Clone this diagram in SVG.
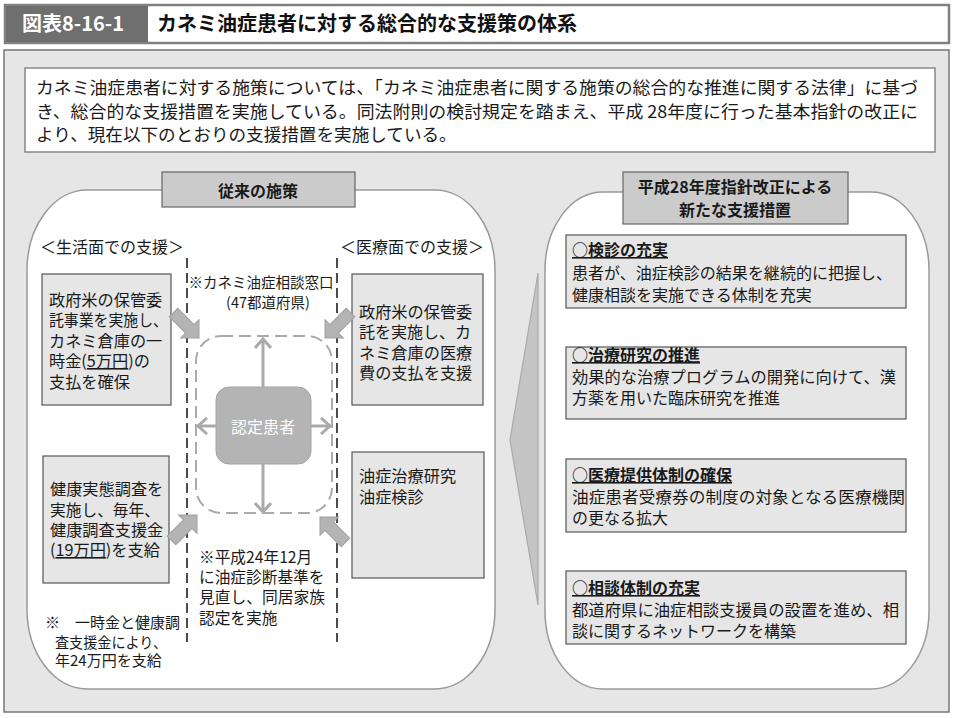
<svg xmlns="http://www.w3.org/2000/svg" width="956" height="718" viewBox="0 0 956 718">
<style>
text{font-family:"Noto Sans CJK JP","Noto Sans",sans-serif;fill:#1a1a1a}
.b{font-weight:bold}
.t16{font-size:16px}
.t162{font-size:16.2px}
.t15{font-size:15px}
.box{fill:#e6e6e6;stroke:#555;stroke-width:1.2}
.hdr{fill:#cbcbcb;stroke:#666;stroke-width:1.2}
.panel{fill:#fff;stroke:#9a9a9a;stroke-width:1.5}
.u{text-decoration:underline}
.blk{fill:#b4b4b4;stroke:#a0a0a0;stroke-width:1}
.ln{stroke:#aaa;stroke-width:3;fill:none}
</style>
<defs>
<marker id="ah" viewBox="0 0 12 18" refX="10" refY="9" markerWidth="12" markerHeight="18" markerUnits="userSpaceOnUse" orient="auto">
<path d="M1,1 L10,9 L1,17" fill="none" stroke="#aaa" stroke-width="3"/>
</marker>
<path id="barrow" d="M-36,-6 L-13,-6 L-13,-13 L0,0 L-13,13 L-13,6 L-36,6 Z"/>
</defs>

<!-- Title bar -->
<g id="title">
<rect x="5" y="5" width="944" height="38" fill="#fff" stroke="#808080" stroke-width="2.5"/>
<rect x="6" y="6" width="142" height="36" fill="#6f6f6f"/>
<text x="22" y="31" class="b" style="font-size:20px;fill:#fff">図表8-16-1</text>
<text x="157" y="31" class="b" style="font-size:20px;fill:#111">カネミ油症患者に対する総合的な支援策の体系</text>
</g>

<!-- Main background panel -->
<rect x="4" y="50" width="945" height="662" fill="#e6e6e6" stroke="#777" stroke-width="1.5"/>

<!-- Intro text -->
<g id="intro">
<rect x="25" y="68" width="910" height="84" fill="#fff" stroke="#888" stroke-width="1.5"/>
<text x="36" y="94" style="font-size:17.6px" textLength="882" lengthAdjust="spacingAndGlyphs">カネミ油症患者に対する施策については、「カネミ油症患者に関する施策の総合的な推進に関する法律」に基づ</text>
<text x="36" y="118" style="font-size:17.6px" textLength="882" lengthAdjust="spacingAndGlyphs">き、総合的な支援措置を実施している。同法附則の検討規定を踏まえ、平成 28年度に行った基本指針の改正に</text>
<text x="36" y="141" style="font-size:17.6px">より、現在以下のとおりの支援措置を実施している。</text>
</g>

<!-- Left panel -->
<g id="left-panel">
<rect x="27" y="190" width="468" height="499" rx="60" ry="80" class="panel"/>
<rect x="162" y="172" width="193" height="35" class="hdr"/>
<text x="258" y="197" class="b t16" text-anchor="middle">従来の施策</text>
<text x="40" y="253" class="t16">＜生活面での支援＞</text>
<text x="340" y="253" class="t16">＜医療面での支援＞</text>
</g>

<!-- Right panel -->
<g id="right-panel">
<rect x="545" y="192" width="384" height="497" rx="58" ry="78" class="panel"/>
<rect x="623" y="172" width="225" height="52" class="hdr"/>
<text x="735" y="193" class="b t16" text-anchor="middle">平成28年度指針改正による</text>
<text x="735" y="216" class="b t16" text-anchor="middle">新たな支援措置</text>
</g>

<g id="node-life1">
<rect x="42" y="274" width="129" height="131" class="box"/>
<text class="t162" x="49" y="306">政府米の保管委</text>
<text class="t162" x="49" y="326" textLength="119" lengthAdjust="spacingAndGlyphs">託事業を実施し、</text>
<text class="t162" x="49" y="347">カネミ倉庫の一</text>
<text class="t162" x="49" y="367"><tspan>時金(</tspan><tspan class="u">5万円</tspan><tspan>)の</tspan></text>
<text class="t162" x="49" y="388">支払を確保</text>
</g>

<g id="node-med1">
<rect x="352" y="274" width="131" height="131" class="box"/>
<text class="t162" x="359" y="318">政府米の保管委</text>
<text class="t162" x="359" y="338" textLength="112" lengthAdjust="spacingAndGlyphs">託を実施し、カ</text>
<text class="t162" x="359" y="359">ネミ倉庫の医療</text>
<text class="t162" x="359" y="379">費の支払を支援</text>
</g>

<g id="node-life2">
<rect x="43" y="456" width="126" height="127" class="box"/>
<text class="t162" x="50" y="495">健康実態調査を</text>
<text class="t162" x="50" y="516" textLength="110" lengthAdjust="spacingAndGlyphs">実施し、毎年、</text>
<text class="t162" x="50" y="536">健康調査支援金</text>
<text class="t162" x="50" y="556"><tspan>(</tspan><tspan class="u">19万円</tspan><tspan>)を支給</tspan></text>
</g>

<g id="node-med2">
<rect x="352" y="452" width="132" height="126" class="box"/>
<text class="t162" x="359" y="482">油症治療研究</text>
<text class="t162" x="359" y="503">油症検診</text>
</g>

<g id="note-left">
<text class="t15" x="45" y="628" xml:space="preserve">※　一時金と健康調</text>
<text class="t15" x="55" y="648" textLength="112" lengthAdjust="spacingAndGlyphs">査支援金により、</text>
<text class="t15" x="55" y="666">年24万円を支給</text>
</g>

<g id="consult-window">
<line x1="187" y1="258" x2="187" y2="642" stroke="#111" stroke-width="1.5" stroke-dasharray="10 5"/>
<line x1="337" y1="258" x2="337" y2="642" stroke="#111" stroke-width="1.5" stroke-dasharray="10 5"/>
<text x="261" y="288" style="font-size:14.5px" text-anchor="middle">※カネミ油症相談窓口</text>
<text x="268" y="308" style="font-size:14.5px" text-anchor="middle">(47都道府県)</text>
<rect x="196" y="336" width="136" height="177" rx="25" fill="none" stroke="#aaa" stroke-width="2" stroke-dasharray="12 6"/>
</g>

<g id="note-center">
<text style="font-size:15.7px" x="199" y="563">※平成24年12月</text>
<text style="font-size:15.7px" x="199" y="583">に油症診断基準を</text>
<text style="font-size:15.7px" x="199" y="603" textLength="126" lengthAdjust="spacingAndGlyphs">見直し、同居家族</text>
<text style="font-size:15.7px" x="199" y="624">認定を実施</text>
</g>

<g id="node-patient">
<rect x="216" y="387" width="95" height="77" rx="13" fill="#b4b4b4" stroke="#a4a4a4" stroke-width="1"/>
<text x="263" y="433" class="t16" text-anchor="middle" style="fill:#fff">認定患者</text>
</g>

<g id="new1">
<rect x="566" y="235" width="340" height="73" class="box"/>
<text class="t16 b u" x="572" y="256">○検診の充実</text>
<text class="t16" x="572" y="279" textLength="320" lengthAdjust="spacingAndGlyphs">患者が、油症検診の結果を継続的に把握し、</text>
<text class="t16" x="572" y="301">健康相談を実施できる体制を充実</text>
</g>
<g id="new2">
<rect x="566" y="347" width="340" height="72" class="box"/>
<text class="t16 b u" x="572" y="361">○治療研究の推進</text>
<text class="t16" x="572" y="383" textLength="324" lengthAdjust="spacingAndGlyphs">効果的な治療プログラムの開発に向けて、漢</text>
<text class="t16" x="572" y="404">方薬を用いた臨床研究を推進</text>
</g>
<g id="new3">
<rect x="566" y="459" width="340" height="73" class="box"/>
<text class="t16 b u" x="572" y="481">○医療提供体制の確保</text>
<text class="t16" x="572" y="503" textLength="333" lengthAdjust="spacingAndGlyphs">油症患者受療券の制度の対象となる医療機関</text>
<text class="t16" x="572" y="524">の更なる拡大</text>
</g>
<g id="new4">
<rect x="566" y="571" width="340" height="73" class="box"/>
<text class="t16 b u" x="572" y="594">○相談体制の充実</text>
<text class="t16" x="572" y="616" textLength="327" lengthAdjust="spacingAndGlyphs">都道府県に油症相談支援員の設置を進め、相</text>
<text class="t16" x="572" y="637">談に関するネットワークを構築</text>
</g>

<g id="connectors">
<polygon points="538,273 510,440 538,605" fill="#c4c4c4" stroke="#aaa" stroke-width="1.2"/>
<line x1="263" y1="387" x2="263" y2="339" class="ln" marker-end="url(#ah)"/>
<line x1="263" y1="464" x2="263" y2="512" class="ln" marker-end="url(#ah)"/>
<line x1="216" y1="426" x2="198" y2="426" class="ln" marker-end="url(#ah)"/>
<line x1="311" y1="426" x2="330" y2="426" class="ln" marker-end="url(#ah)"/>
<use href="#barrow" class="blk" transform="translate(199,338) rotate(45)"/>
<use href="#barrow" class="blk" transform="translate(325,338) rotate(135)"/>
<use href="#barrow" class="blk" transform="translate(197,515) rotate(-45)"/>
<use href="#barrow" class="blk" transform="translate(320,517) rotate(-135)"/>
</g>
</svg>
